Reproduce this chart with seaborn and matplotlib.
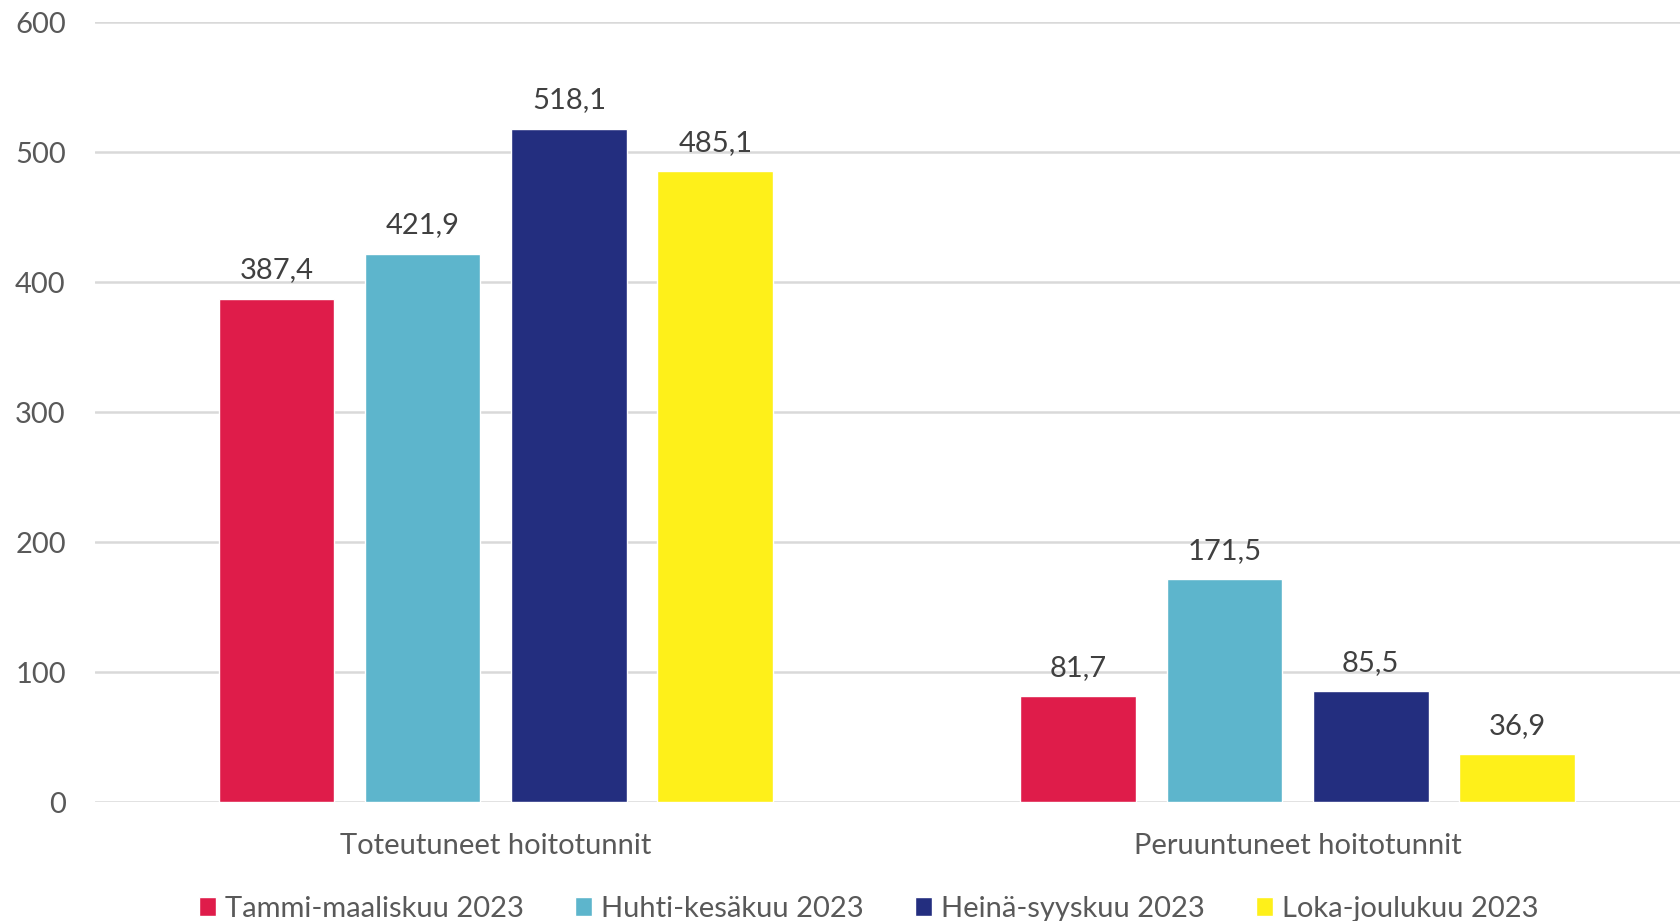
import matplotlib
matplotlib.use("Agg")
import matplotlib.pyplot as plt
import pandas as pd
import seaborn as sns

# Data
categories = ["Toteutuneet hoitotunnit", "Peruuntuneet hoitotunnit"]
periods = ["Tammi-maaliskuu 2023", "Huhti-kesäkuu 2023", "Heinä-syyskuu 2023", "Loka-joulukuu 2023"]
tammi_maalis = [387.4, 81.7]
huhti_kesa = [421.9, 171.5]
heina_syys = [518.1, 85.5]
loka_joulu = [485.1, 36.9]
colors = ["#DF1C4A", "#5DB5CC", "#232E7F", "#FEF01A"]

rows = []
for period, vals in zip(periods, [tammi_maalis, huhti_kesa, heina_syys, loka_joulu]):
    for cat, v in zip(categories, vals):
        rows.append({"Kategoria": cat, "Jakso": period, "Tunnit": v})
df = pd.DataFrame(rows)

sns.set_style("white")
plt.rcParams['font.family'] = ['Lato', 'DejaVu Sans']

fig = plt.figure(figsize=(16.8, 9.21), dpi=100)
ax = fig.add_axes([0.0565, 0.129, 0.9545, 0.847])

sns.barplot(data=df, x="Kategoria", y="Tunnit", hue="Jakso", order=categories,
            hue_order=periods, palette=colors, width=0.73, gap=0.21,
            saturation=1, ax=ax, legend=True)

# Data labels with comma decimals
for container in ax.containers:
    labels = [f"{b.get_height():.1f}".replace(".", ",") for b in container]
    ax.bar_label(container, labels=labels, padding=11, fontsize=21, color="#404040")

ax.set_ylim(0, 600)
ax.set_yticks(range(0, 601, 100))
ax.yaxis.grid(True, color="#D9D9D9", linewidth=1.8)
ax.set_axisbelow(True)
for side in ["top", "right", "left", "bottom"]:
    ax.spines[side].set_visible(False)
ax.tick_params(axis="both", length=0, labelsize=21, labelcolor="#595959")
ax.tick_params(axis="y", pad=21)
ax.tick_params(axis="x", pad=22)
ax.set_xlabel("")
ax.set_ylabel("")
ax.set_xlim(-0.5, 1.5)

handles, labels = ax.get_legend_handles_labels()
ax.get_legend().remove()
fig.legend(handles, labels, loc="center", bbox_to_anchor=(0.517, 0.013), ncol=4,
           frameon=False, fontsize=21, labelcolor="#595959", handlelength=0.6,
           handleheight=0.6, handletextpad=0.3, columnspacing=1.75)

fig.savefig("out.png", dpi=100)
